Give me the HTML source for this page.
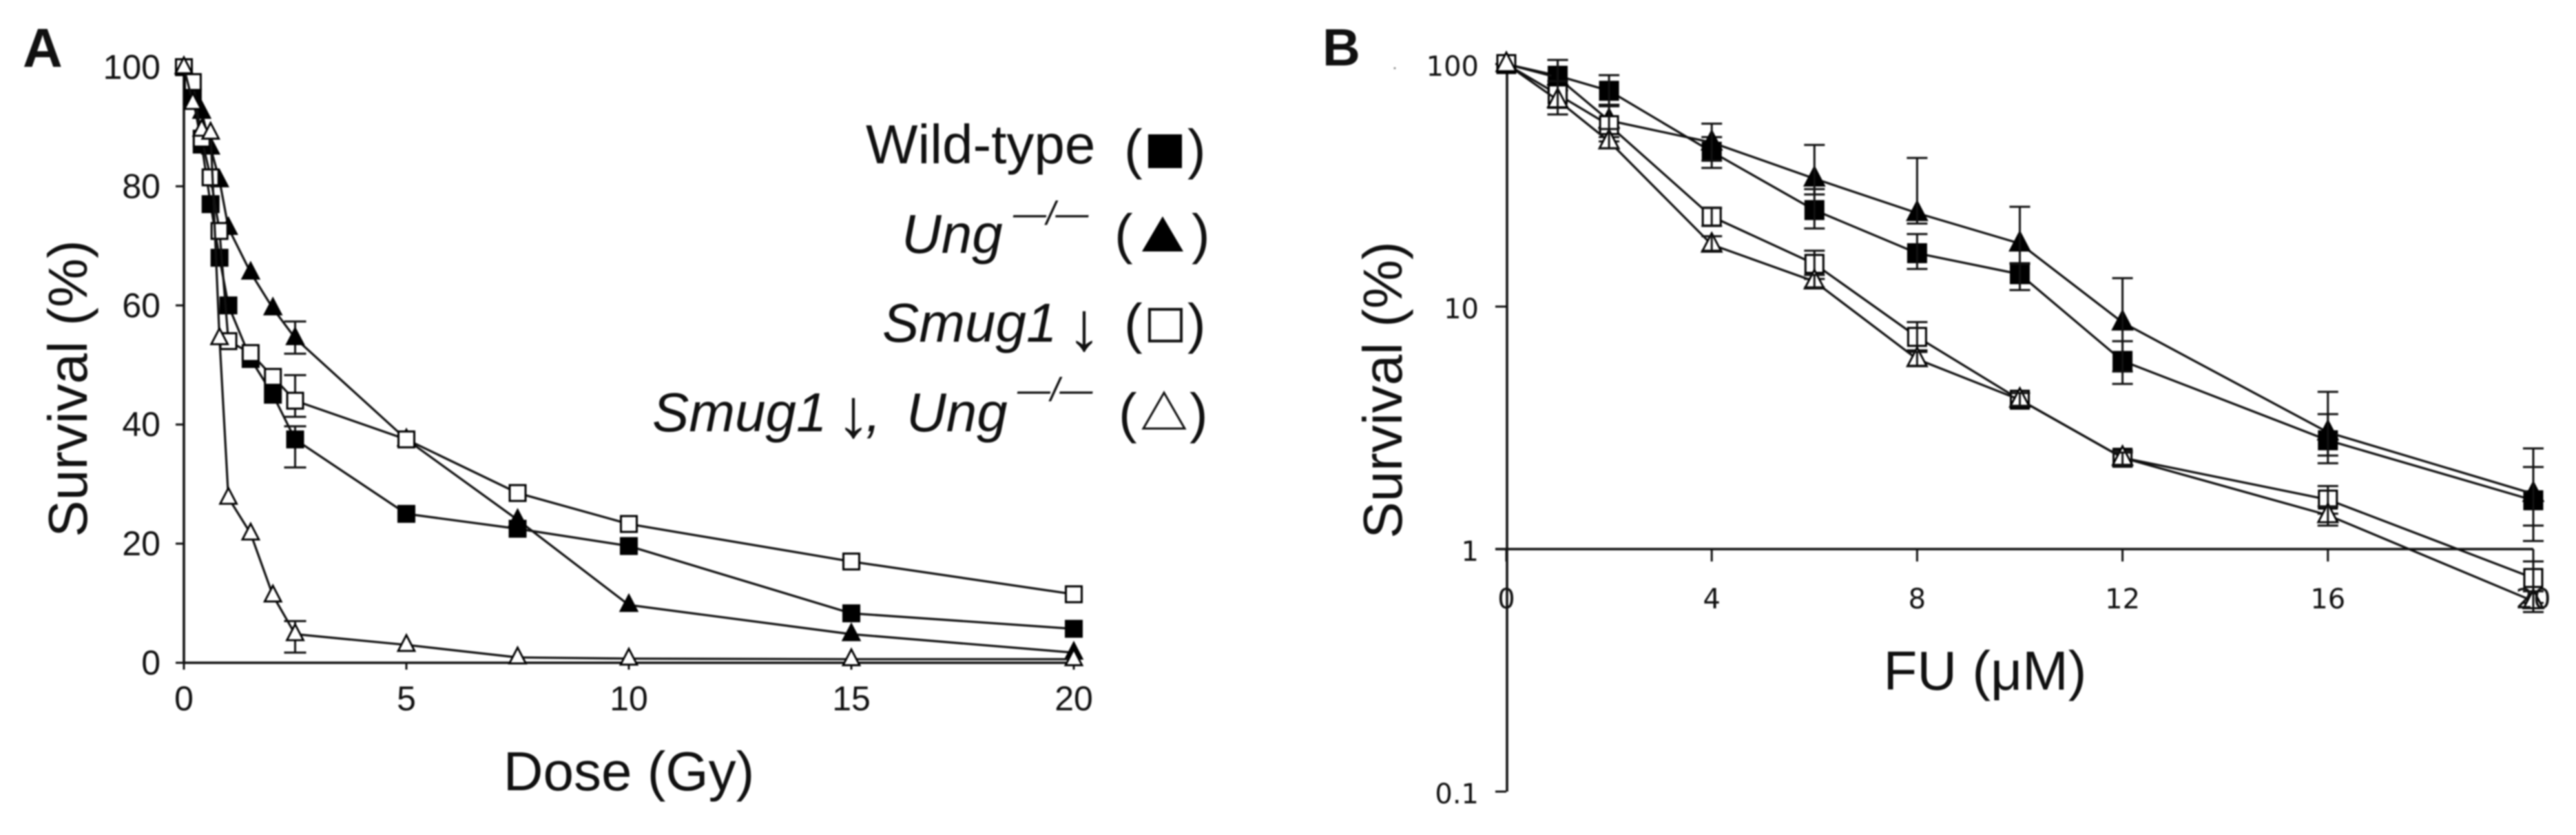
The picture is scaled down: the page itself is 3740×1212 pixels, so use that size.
<!DOCTYPE html>
<html>
<head>
<meta charset="utf-8">
<title>Survival charts</title>
<style>
html,body{margin:0;padding:0;background:#fff;}
body{width:3740px;height:1212px;overflow:hidden;}
svg{display:block;filter:blur(1.1px);}
text{fill:#111;font-family:"Liberation Sans",sans-serif;}
.tickb{font-family:"DejaVu Sans","Liberation Sans",sans-serif;font-size:40px;}
.ticka{font-size:50px;}
.title{font-size:80px;}
.leg{font-size:80px;}
.it{font-style:italic;}
.arrow{font-size:100px;font-style:italic;}
.sup{font-size:48px;font-style:italic;}
</style>
</head>
<body>
<svg id="fig" xmlns="http://www.w3.org/2000/svg" width="3740" height="1212" viewBox="0 0 3740 1212">
  <rect x="0" y="0" width="3740" height="1212" fill="#fff"/>
  <text x="33" y="97" font-size="80" font-weight="bold">A</text>
  <text x="1920" y="95" font-size="76" font-weight="bold">B</text>
  <text class="title" transform="translate(126 564) rotate(-90)" text-anchor="middle">Survival (%)</text>
  <text class="title" x="913" y="1147" text-anchor="middle">Dose (Gy)</text>
  <text class="title" transform="translate(2035 566) rotate(-90)" text-anchor="middle">Survival (%)</text>
  <text class="title" x="2882" y="1001" text-anchor="middle">FU (μM)</text>

  <g>
    <g>
      <text class="leg" x="1257" y="237">Wild-type</text>
      <text class="leg" x="1632" y="244">(</text>
      <rect x="1667" y="195" width="49" height="49" fill="#000"/>
      <text class="leg" x="1724" y="244">)</text>
    </g>
    <g>
      <text class="leg it" x="1309" y="367">Ung</text>
      <text class="sup" x="1471" y="326">—/—</text>
      <text class="leg" x="1618" y="367">(</text>
      <polygon points="1688,314 1718,365 1658,365" fill="#000"/>
      <text class="leg" x="1730" y="367">)</text>
    </g>
    <g>
      <text class="leg it" x="1281" y="496">Smug1</text>
      <text class="arrow" x="1549" y="508">↓</text>
      <text class="leg" x="1632" y="497">(</text>
      <rect x="1669" y="449" width="46" height="46" fill="#fff" stroke="#111" stroke-width="4"/>
      <text class="leg" x="1724" y="497">)</text>
    </g>
    <g>
      <text class="leg it" x="947" y="626">Smug1</text>
      <text class="arrow" x="1214" y="634">↓</text>
      <text class="leg it" x="1257" y="626">,</text>
      <text class="leg it" x="1316" y="626">Ung</text>
      <text class="sup" x="1477" y="582">—/—</text>
      <text class="leg" x="1624" y="627">(</text>
      <polygon points="1690,570 1720,622 1660,622" fill="#fff" stroke="#111" stroke-width="3"/>
      <text class="leg" x="1727" y="627">)</text>
    </g>
  </g>
  <circle cx="2025" cy="99" r="1.5" fill="#888"/>
  <g id="chartA"></g>
  <g id="chartB"></g>
</svg>

<script>
// ---------- Panel A data ----------
const dosesA = [0, 0.2, 0.4, 0.6, 0.8, 1, 1.5, 2, 2.5, 5, 7.5, 10, 15, 20];
const wildTypeA = [100, 95, 87, 77, 68, 60, 51, 45, 37.5, 25, 22.5, 19.6, 8.3, 5.7];
const ungA = [100, 95, 92.5, 86.5, 81, 73, 65.5, 59.5, 54.5, 37.5, 24, 9.7, 4.8, 1.7];
const smugA = [100, 97.5, 88, 81.5, 72.5, 54, 52, 48, 44, 37.5, 28.5, 23.3, 17, 11.5];
const doubleA = [100, 94, 89.5, 89, 54.5, 27.7, 21.7, 11.3, 4.8, 3, 0.9, 0.7, 0.6, 0.6];
const errorDoseA = 2.5;
const wildTypeErrA = [32.8, 39.7];
const ungErrA = [51.9, 57.3];
const smugErrA = [41.3, 48.3];
const doubleErrA = [1.7, 7];
const xTicksA = [0, 5, 10, 15, 20];
const yTicksA = [0, 20, 40, 60, 80, 100];

// ---------- Panel B data ----------
const dosesB = [0, 1, 2, 4, 6, 8, 10, 12, 16, 20];
const wildTypeB = [100, 89.5, 77.6, 43.5, 25, 16.6, 13.6, 5.97, 2.81, 1.59];
const ungB = [100, 88, 58.5, 47.5, 33.7, 24.3, 18.2, 8.6, 3.03, 1.69];
const smugB = [100, 75, 56, 23.5, 15, 7.5, 4.13, 2.38, 1.6, 0.76];
const doubleB = [100, 71, 48, 18, 12.7, 6.07, 4.13, 2.38, 1.38, 0.61];
const wildTypeHiB = [100, 104, 90, 50, 30.5, 19.9, 15.1, 7.2, 3.6, 2.18];
const wildTypeLoB = [100, 78, 67, 37.3, 21, 14.3, 11.7, 4.8, 2.26, 1.08];
const ungHiB = [100, 104, 68, 56.8, 46.4, 41, 25.8, 13.1, 4.45, 2.6];
const ungLoB = [100, 78, 50, 40, 29, 22, 15, 5.4, 2.43, 1.25];
const smugHiB = [100, 85, 68, 25.5, 17, 8.63, 4.4, 2.55, 1.82, 0.89];
const smugLoB = [100, 66, 48, 21.5, 13, 6.6, 3.9, 2.2, 1.4, 0.6];
const doubleHiB = [100, 85, 54, 19.5, 13.5, 6.5, 4.4, 2.5, 1.5, 0.67];
const doubleLoB = [100, 62, 45, 17, 12, 5.7, 3.9, 2.2, 1.25, 0.55];
const xTicksB = [0, 4, 8, 12, 16, 20];
const yTicksB = [100, 10, 1, 0.1];
const yTickLabelsB = ["100", "10", "1", "0.1"];

// ---------- Axis functions ----------
const xA = v => 267 + 64.6 * v;
const yA = v => 962 - 8.645 * v;
const xB = v => 2187 + 74.55 * v;
const yB = v => 797 - 352 * Math.log10(v);

const NS = "http://www.w3.org/2000/svg";
const INK = "#111";
function mk(parent, tag, attrs, txt) {
  const el = document.createElementNS(NS, tag);
  for (const k in attrs) el.setAttribute(k, attrs[k]);
  if (txt !== undefined) el.textContent = txt;
  parent.appendChild(el);
  return el;
}
function seg(parent, x1, y1, x2, y2, w, name) {
  const el = mk(parent, "line", {x1: x1, y1: y1, x2: x2, y2: y2, stroke: INK, "stroke-width": w});
  
  
  return el;
}
function marker(parent, px, py, shape, filled, size, name) {
  let el;
  const fill = filled ? "#000" : "#fff";
  if (shape === "square") {
    el = mk(parent, "rect", {x: px - size / 2, y: py - size / 2, width: size, height: size, fill: fill, stroke: "#000", "stroke-width": 3});
  } else {
    const h = size * 0.52;
    el = mk(parent, "polygon", {points: px + "," + (py - size * 0.62) + " " + (px + h) + "," + (py + size * 0.38) + " " + (px - h) + "," + (py + size * 0.38), fill: fill, stroke: "#000", "stroke-width": 2.8, "stroke-linejoin": "miter"});
  }
  
  
  return el;
}
function polyline(parent, xs, ys, fx, fy, name) {
  const pts = xs.map((x, i) => fx(x) + "," + fy(ys[i])).join(" ");
  const el = mk(parent, "polyline", {points: pts, fill: "none", stroke: INK, "stroke-width": 3.2});
  
  
  return el;
}

// ---------- Panel A ----------
const gA = document.getElementById("chartA");
seg(gA, xA(0), yA(100), xA(0), yA(0) + 2, 3.6, "y-axis-line-a");
seg(gA, xA(0), yA(0), xA(20), yA(0), 3.4, "x-axis-line-a");
yTicksA.forEach(t => {
  seg(gA, xA(0) - 12, yA(t), xA(0), yA(t), 3, "y-tick-a");
  const lab = mk(gA, "text", {x: 233, y: yA(t) + 17, "text-anchor": "end", class: "ticka"}, String(t));
  
  
});
xTicksA.forEach(t => {
  seg(gA, xA(t), yA(0), xA(t), yA(0) + 10, 3, "x-tick-a");
  const lab = mk(gA, "text", {x: xA(t), y: 1031, "text-anchor": "middle", class: "ticka"}, String(t));
  
  
});
function seriesA(values, err, shape, filled, name) {
  const g = mk(gA, "g", {});
  
  
  polyline(g, dosesA, values, xA, yA, "line-" + name + "-a");
  const ex = xA(errorDoseA);
  seg(g, ex, yA(err[0]), ex, yA(err[1]), 3, "error-bar-" + name + "-a");
  seg(g, ex - 16, yA(err[0]), ex + 16, yA(err[0]), 3, "error-cap-low-" + name + "-a");
  seg(g, ex - 16, yA(err[1]), ex + 16, yA(err[1]), 3, "error-cap-high-" + name + "-a");
  dosesA.forEach((d, i) => {
    marker(g, xA(d), yA(values[i]), shape, filled, 23, "point-" + name + "-a");
  });
}
seriesA(wildTypeA, wildTypeErrA, "square", true, "wild-type");
seriesA(ungA, ungErrA, "triangle", true, "ung");
seriesA(smugA, smugErrA, "square", false, "smug1");
seriesA(doubleA, doubleErrA, "triangle", false, "smug1-ung");

// ---------- Panel B ----------
const gB = document.getElementById("chartB");
seg(gB, xB(0) + 1, yB(100), xB(0) + 1, yB(0.1), 3.6, "y-axis-line-b");
seg(gB, xB(0) - 16, yB(1), xB(20), yB(1), 3.4, "x-axis-line-b");
yTicksB.forEach((t, i) => {
  seg(gB, xB(0) - 16, yB(t), xB(0), yB(t), 3, "y-tick-b");
  const lab = mk(gB, "text", {x: 2147, y: yB(t) + 17, "text-anchor": "end", class: "tickb"}, yTickLabelsB[i]);
  
  
});
xTicksB.forEach(t => {
  seg(gB, xB(t), yB(1), xB(t), yB(1) + 18, 3, "x-tick-b");
});
function seriesB(values, hi, lo, shape, filled, name) {
  const g = mk(gB, "g", {});
  
  
  polyline(g, dosesB, values, xB, yB, "line-" + name + "-b");
  dosesB.forEach((d, i) => {
    marker(g, xB(d), yB(values[i]), shape, filled, shape === "square" ? 26 : 27, "point-" + name + "-b");
    if (i === 0) return;
    const px = xB(d);
    seg(g, px, yB(lo[i]), px, yB(hi[i]), 3, "error-bar-" + name + "-b");
    seg(g, px - 15, yB(lo[i]), px + 15, yB(lo[i]), 3, "error-cap-low-" + name + "-b");
    seg(g, px - 15, yB(hi[i]), px + 15, yB(hi[i]), 3, "error-cap-high-" + name + "-b");
  });
}
seriesB(wildTypeB, wildTypeHiB, wildTypeLoB, "square", true, "wild-type");
seriesB(ungB, ungHiB, ungLoB, "triangle", true, "ung");
seriesB(smugB, smugHiB, smugLoB, "square", false, "smug1");
seriesB(doubleB, doubleHiB, doubleLoB, "triangle", false, "smug1-ung");
xTicksB.forEach(t => {
  const lab = mk(gB, "text", {x: xB(t), y: 883, "text-anchor": "middle", class: "tickb"}, String(t));
  
  
});
</script>
</body>
</html>
